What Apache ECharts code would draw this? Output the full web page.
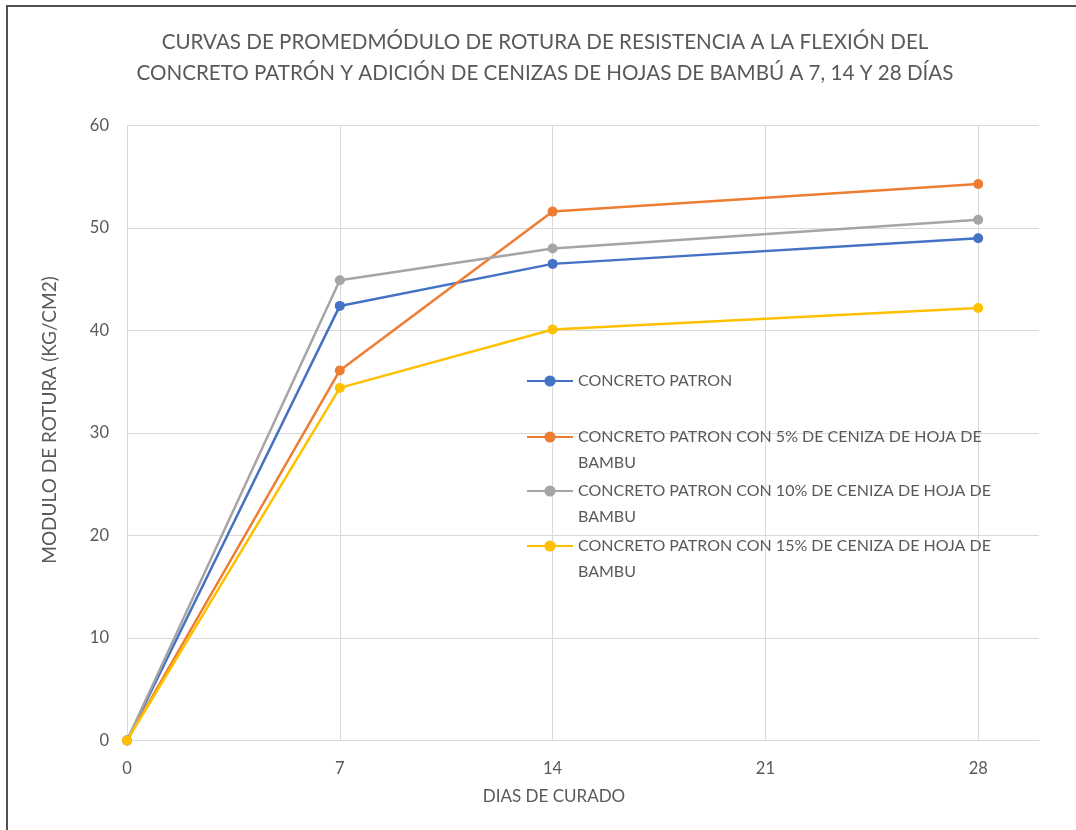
<!DOCTYPE html>
<html>
<head>
<meta charset="utf-8">
<script src="https://cdn.jsdelivr.net/npm/echarts@6/dist/echarts.min.js"></script>
<style>
  html, body { margin: 0; padding: 0; background: #fff; }
  #chart { width: 1076px; height: 830px; }
</style>
</head>
<body>
<div id="chart"></div>
<script>
// Curing age (days) and average modulus of rupture (kg/cm2) per mix
const days = [0, 7, 14, 28];
const seriesNames = [
  'CONCRETO PATRON',
  'CONCRETO PATRON CON 5% DE CENIZA DE HOJA DE BAMBU',
  'CONCRETO PATRON CON 10% DE CENIZA DE HOJA DE BAMBU',
  'CONCRETO PATRON CON 15% DE CENIZA DE HOJA DE BAMBU'
];
const patron = [0, 42.4, 46.5, 49.0];
const ceniza5 = [0, 36.1, 51.6, 54.3];
const ceniza10 = [0, 44.9, 48.0, 50.8];
const ceniza15 = [0, 34.4, 40.1, 42.2];
const colors = ['#4472C4', '#ED7D31', '#A5A5A5', '#FFC000'];

const FONT = 'Lato';
const TXT = '#595959';

const values = [patron, ceniza5, ceniza10, ceniza15];
const pairs = v => days.map((d, i) => [d, v[i]]);

const series = values.map((v, i) => ({
  name: seriesNames[i],
  type: 'line',
  data: pairs(v),
  symbol: 'circle',
  symbolSize: 10,
  lineStyle: { width: 2.5, color: colors[i] },
  itemStyle: { color: colors[i] },
  emphasis: { disabled: true },
  animation: false
}));

// One legend block per series. Wrapped names get a blank leading line so the
// first text line, not the block centre, lines up with the marker.
const LH = 26;
const legendIconY = [381, 437, 491, 546];
const legends = seriesNames.map((name, i) => {
  const twoLines = i > 0;
  return {
    left: 526,
    top: twoLines ? legendIconY[i] - 1.5 * LH : legendIconY[i] - LH / 2,
    orient: 'vertical',
    padding: 0,
    itemWidth: 46,
    itemHeight: 14,
    selectedMode: false,
    data: [name],
    formatter: n => (twoLines ? ' \n' + n : n),
    textStyle: {
      fontFamily: FONT,
      fontSize: 16,
      color: TXT,
      width: 440,
      overflow: 'break',
      lineHeight: LH
    }
  };
});

const chart = echarts.init(document.getElementById('chart'));
chart.setOption({
  backgroundColor: '#fff',
  title: {
    text: 'CURVAS DE PROMEDMÓDULO DE ROTURA DE RESISTENCIA A LA FLEXIÓN DEL\nCONCRETO PATRÓN Y ADICIÓN DE CENIZAS DE HOJAS DE BAMBÚ A 7, 14 Y 28 DÍAS',
    left: 545,
    top: 27,
    padding: 0,
    textAlign: 'center',
    textStyle: {
      fontFamily: FONT,
      fontSize: 20.6,
      fontWeight: 'normal',
      color: TXT,
      lineHeight: 31
    }
  },
  legend: legends,
  grid: { left: 127, right: 37, top: 125.5, bottom: 89.5, containLabel: false },
  xAxis: {
    type: 'value',
    min: 0,
    max: 30,
    interval: 7,
    name: 'DIAS DE CURADO',
    nameLocation: 'middle',
    nameGap: 48,
    nameTextStyle: { fontFamily: FONT, fontSize: 17, color: TXT, padding: [0, 58, 0, 0] },
    axisLine: { show: true, lineStyle: { color: '#d9d9d9', width: 1 } },
    axisTick: { show: false },
    axisLabel: { fontFamily: FONT, fontSize: 16.5, color: TXT, margin: 20, showMaxLabel: false },
    splitLine: { show: true, showMaxLine: false, lineStyle: { color: '#d9d9d9', width: 1 } }
  },
  yAxis: {
    type: 'value',
    min: 0,
    max: 60,
    interval: 10,
    name: 'MODULO DE ROTURA (KG/CM2)',
    nameLocation: 'middle',
    nameGap: 68,
    nameTextStyle: { fontFamily: FONT, fontSize: 19, color: TXT, padding: [0, 0, 0, 26] },
    axisLine: { show: false },
    axisTick: { show: false },
    axisLabel: { fontFamily: FONT, fontSize: 16.5, color: TXT, margin: 18 },
    splitLine: { show: true, lineStyle: { color: '#d9d9d9', width: 1 } }
  },
  graphic: [{
    type: 'polyline',
    shape: { points: [[7, 830], [7, 6], [1076, 6]] },
    style: { stroke: '#505050', lineWidth: 2, fill: null },
    silent: true
  }],
  series: series
});
</script>
</body>
</html>
